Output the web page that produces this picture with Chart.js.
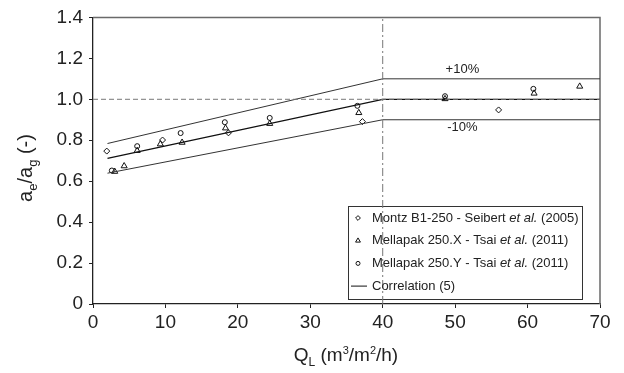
<!DOCTYPE html>
<html>
<head>
<meta charset="utf-8">
<script src="https://cdn.jsdelivr.net/npm/chart.js@4.4.1/dist/chart.umd.min.js"></script>
<style>
  html, body { margin: 0; padding: 0; background: #fff; }
  #wrap { position: relative; width: 624px; height: 373px; }
</style>
</head>
<body>
<div id="wrap"><canvas id="chart"></canvas></div>
<script>
// values
const montzX = [1.9, 9.6, 18.7, 37.2, 56.0];
const montzY = [0.747, 0.801, 0.836, 0.891, 0.948];

const mellXx = [3.0, 4.3, 6.1, 9.3, 12.3, 18.3, 24.4, 36.7, 48.6, 60.9, 67.2];
const mellXy = [0.647, 0.674, 0.749, 0.781, 0.789, 0.859, 0.881, 0.934, 1.002, 1.029, 1.063];

const mellYx = [2.6, 6.1, 12.1, 18.2, 24.4, 36.5, 48.6, 60.8];
const mellYy = [0.652, 0.771, 0.835, 0.888, 0.909, 0.968, 1.015, 1.051];

const corrX = [2, 40, 70];
const corrY = [0.711, 1.0, 1.0];
const upperY = [0.784, 1.1, 1.1];
const lowerY = [0.639, 0.9, 0.9];

const refHx = [0, 70], refHy = [1.0, 1.0];
const refVx = [40, 40], refVy = [0, 1.4];

const xTicks = [0, 10, 20, 30, 40, 50, 60, 70];
const yTicks = [0, 0.2, 0.4, 0.6, 0.8, 1.0, 1.2, 1.4];

const legendItems = [
  { style: 'rectRot', r: 3, parts: [['Montz B1-250 - Seibert ', 0], ['et al.', 1], [' (2005)', 0]] },
  { style: 'triangle', r: 3.5, parts: [['Mellapak 250.X - Tsai ', 0], ['et al.', 1], [' (2011)', 0]] },
  { style: 'circle', r: 2.5, parts: [['Mellapak 250.Y - Tsai ', 0], ['et al.', 1], [' (2011)', 0]] },
  { style: 'line', parts: [['Correlation (5)', 0]] }
];

const FONT = '"Liberation Sans", Arial, sans-serif';
const zip = (xs, ys) => xs.map((x, i) => ({ x: x, y: ys[i] }));

function pts(label, xs, ys, style, r) {
  return {
    label, data: zip(xs, ys), showLine: false,
    pointStyle: style, pointRadius: r, pointHoverRadius: r,
    pointBorderColor: '#111', pointBackgroundColor: 'rgba(0,0,0,0)', pointBorderWidth: 1
  };
}
function line(label, xs, ys, color, width, dash) {
  return {
    label, data: zip(xs, ys), showLine: true, pointRadius: 0,
    borderColor: color, borderWidth: width, borderDash: dash || [], fill: false, tension: 0
  };
}

const extras = {
  id: 'extras',
  beforeDatasetsDraw(chart) {
    const { ctx, chartArea: a } = chart;
    ctx.save();
    // top/right frame, lighter than the axes
    ctx.strokeStyle = '#6a6a6a';
    ctx.lineWidth = 1.5;
    ctx.beginPath();
    ctx.moveTo(a.left, a.top);
    ctx.lineTo(a.right, a.top);
    ctx.lineTo(a.right, a.bottom);
    ctx.stroke();

    // legend box (the x=40 line runs through it)
    ctx.strokeStyle = '#333';
    ctx.lineWidth = 1;
    ctx.strokeRect(348.5, 206.5, 234, 93);
    ctx.restore();
  },
  afterDraw(chart) {
    const { ctx, scales } = chart;
    const xs = scales.x, ys = scales.y;
    ctx.save();
    ctx.fillStyle = '#222';

    // +10% / -10% labels
    ctx.font = '13px ' + FONT;
    ctx.textAlign = 'center';
    ctx.textBaseline = 'middle';
    ctx.fillText('+10%', xs.getPixelForValue(51), ys.getPixelForValue(1.148));
    ctx.fillText('-10%', xs.getPixelForValue(51), ys.getPixelForValue(0.864));

    // legend entries
    ctx.textAlign = 'left';
    legendItems.forEach((it, i) => {
      const y = 218 + i * 22.7;
      ctx.strokeStyle = '#111';
      ctx.lineWidth = 1;
      if (it.style === 'line') {
        ctx.beginPath();
        ctx.moveTo(351, y);
        ctx.lineTo(367, y);
        ctx.stroke();
      } else {
        ctx.fillStyle = 'rgba(0,0,0,0)';
        Chart.helpers.drawPoint(ctx, { pointStyle: it.style, radius: it.r * 0.8, borderWidth: 1 }, 358, y);
      }
      ctx.fillStyle = '#222';
      let x = 372;
      it.parts.forEach(([t, ital]) => {
        ctx.font = (ital ? 'italic ' : '') + '13px ' + FONT;
        ctx.fillText(t, x, y);
        x += ctx.measureText(t).width;
      });
    });

    // axis titles with sub/superscripts
    const drawRuns = (runs, cx, cy) => {
      let w = 0;
      runs.forEach(r => { ctx.font = r[1] + 'px ' + FONT; w += ctx.measureText(r[0]).width; });
      let x = cx - w / 2;
      runs.forEach(r => {
        ctx.font = r[1] + 'px ' + FONT;
        ctx.fillText(r[0], x, cy + r[2]);
        x += ctx.measureText(r[0]).width;
      });
    };
    ctx.fillStyle = '#222';
    ctx.textBaseline = 'alphabetic';
    drawRuns([['Q', 19, 0], ['L', 12, 5], [' (m', 19, 0], ['3', 11, -7], ['/m', 19, 0], ['2', 11, -7], ['/h)', 19, 0]], 346, 361);

    ctx.save();
    ctx.translate(32, 168);
    ctx.rotate(-Math.PI / 2);
    drawRuns([['a', 20, 0], ['e', 13, 5], ['/a', 20, 0], ['g', 13, 5], [' (-)', 20, 0]], 0, 0);
    ctx.restore();

    ctx.restore();
  }
};

new Chart(document.getElementById('chart'), {
  type: 'scatter',
  data: {
    datasets: [
      line('ref1', refHx, refHy, '#777', 1, [5, 3]),
      line('ref40', refVx, refVy, '#777', 1, [8, 3, 2, 3]),
      line('upper', corrX, upperY, '#333', 1),
      line('lower', corrX, lowerY, '#333', 1),
      line('Correlation (5)', corrX, corrY, '#111', 1.3),
      pts('Montz B1-250', montzX, montzY, 'rectRot', 3),
      pts('Mellapak 250.X', mellXx, mellXy, 'triangle', 3.5),
      pts('Mellapak 250.Y', mellYx, mellYy, 'circle', 2.5)
    ]
  },
  options: {
    responsive: true,
    maintainAspectRatio: false,
    animation: false,
    layout: { padding: { left: 0, right: 24, top: 15, bottom: 0 } },
    plugins: { legend: { display: false }, tooltip: { enabled: false } },
    scales: {
      x: {
        type: 'linear', min: 0, max: 70,
        afterFit: s => { s.height = 69; },
        afterBuildTicks: s => { s.ticks = xTicks.map(v => ({ value: v })); },
        ticks: { color: '#222', font: { family: FONT, size: 19 }, padding: 3, maxRotation: 0,
                 callback: v => String(v) },
        grid: { drawOnChartArea: false, drawTicks: true, tickLength: 4, color: '#222' },
        border: { color: '#222', width: 1.3 }
      },
      y: {
        type: 'linear', min: 0, max: 1.4,
        afterFit: s => { s.width = 93; },
        afterBuildTicks: s => { s.ticks = yTicks.map(v => ({ value: v })); },
        ticks: { color: '#222', font: { family: FONT, size: 19 }, padding: 6,
                 callback: v => (v === 0 ? '0' : v.toFixed(1)) },
        grid: { drawOnChartArea: false, drawTicks: true, tickLength: 4, color: '#222' },
        border: { color: '#222', width: 1.3 }
      }
    }
  },
  plugins: [extras]
});
</script>
</body>
</html>
